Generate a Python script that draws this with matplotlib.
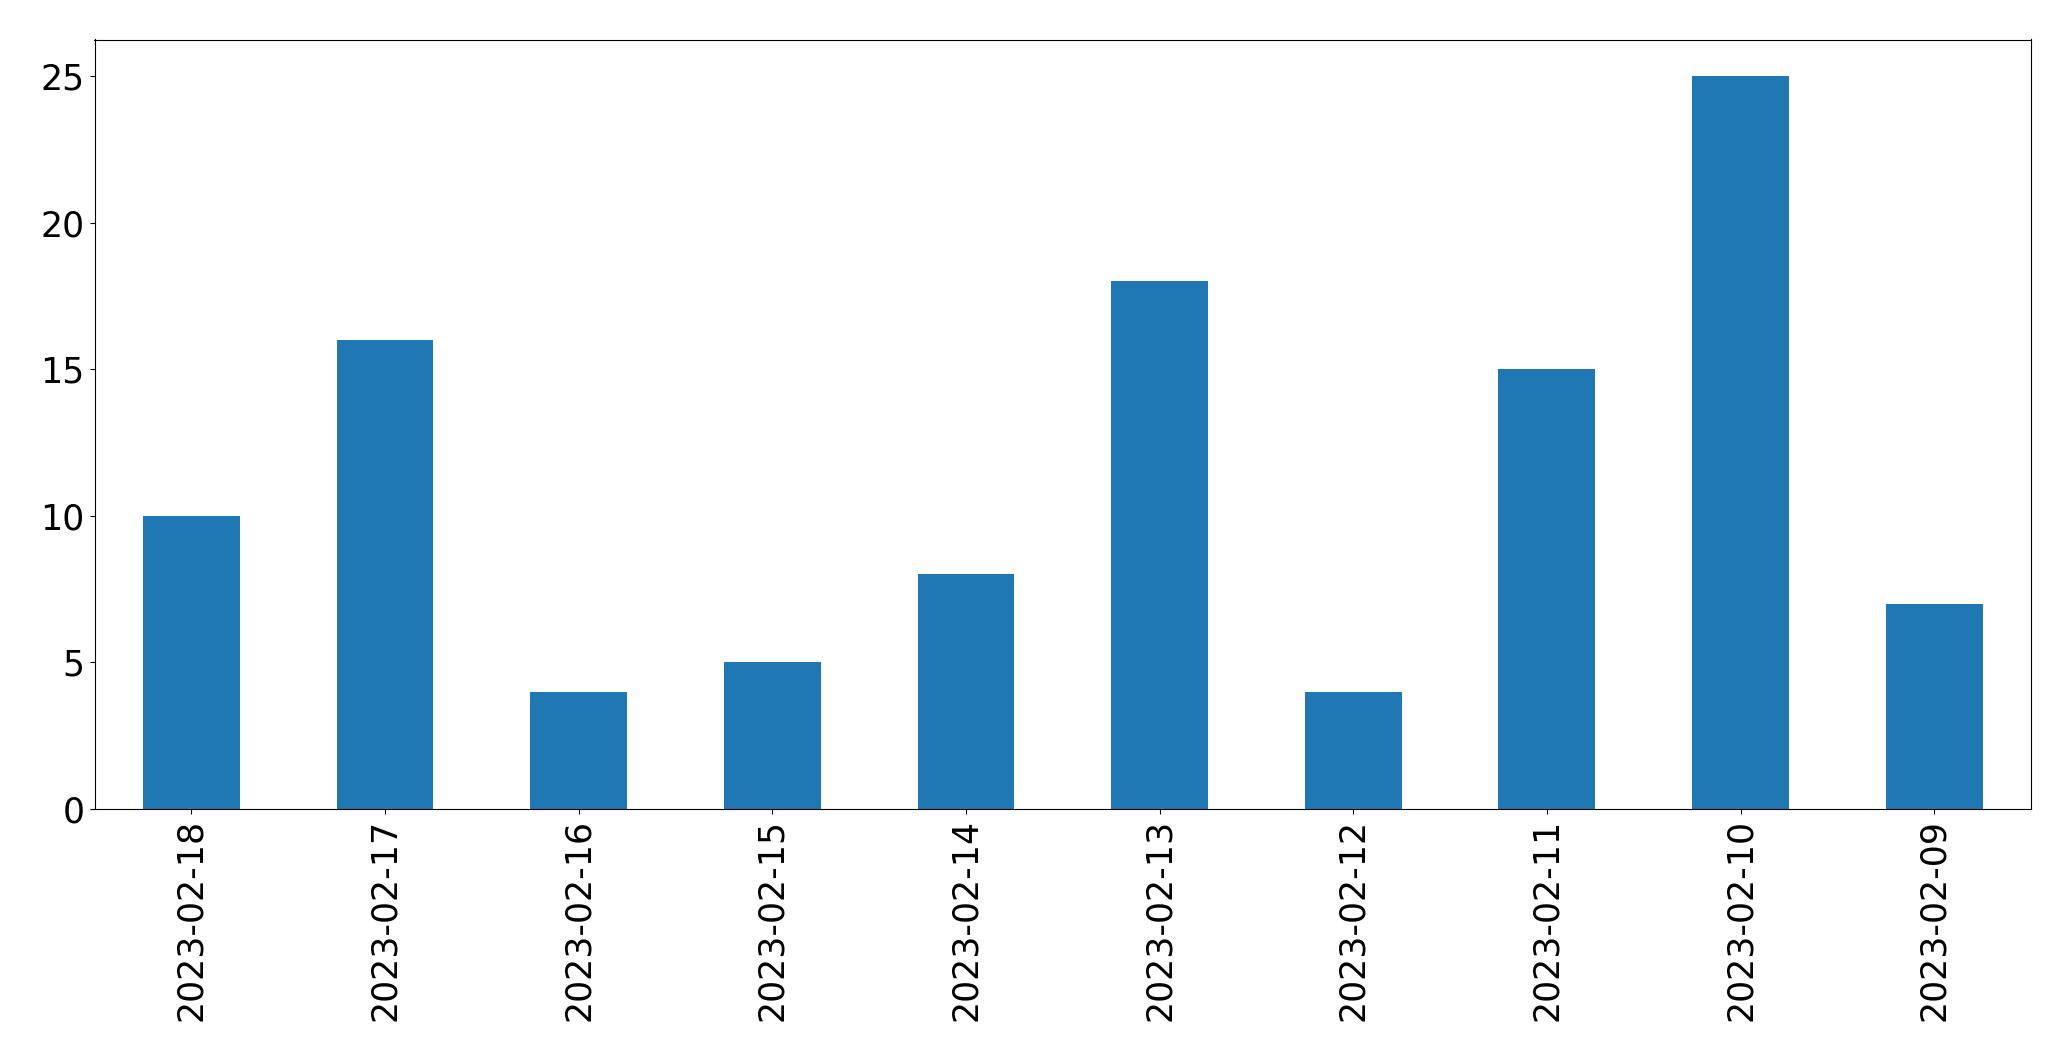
import pandas as pd
import matplotlib
matplotlib.use('Agg')
import matplotlib.pyplot as plt

# counts per day, in the order they appear on the chart
dates = ['2023-02-18', '2023-02-17', '2023-02-16', '2023-02-15', '2023-02-14',
         '2023-02-13', '2023-02-12', '2023-02-11', '2023-02-10', '2023-02-09']
counts = [10, 16, 4, 5, 8, 18, 4, 15, 25, 7]

s = pd.Series(counts, index=dates)

fig, ax = plt.subplots(figsize=(20.71, 10.61), dpi=100)
s.plot(kind='bar', ax=ax, color='#1f77b4')
ax.tick_params(axis='both', labelsize=25)
ax.set_yticks([0, 5, 10, 15, 20, 25])
fig.subplots_adjust(left=94.5 / 2071, right=2031 / 2071, top=1 - 39.5 / 1061, bottom=1 - 809 / 1061)
fig.savefig('out.png', dpi=100)
